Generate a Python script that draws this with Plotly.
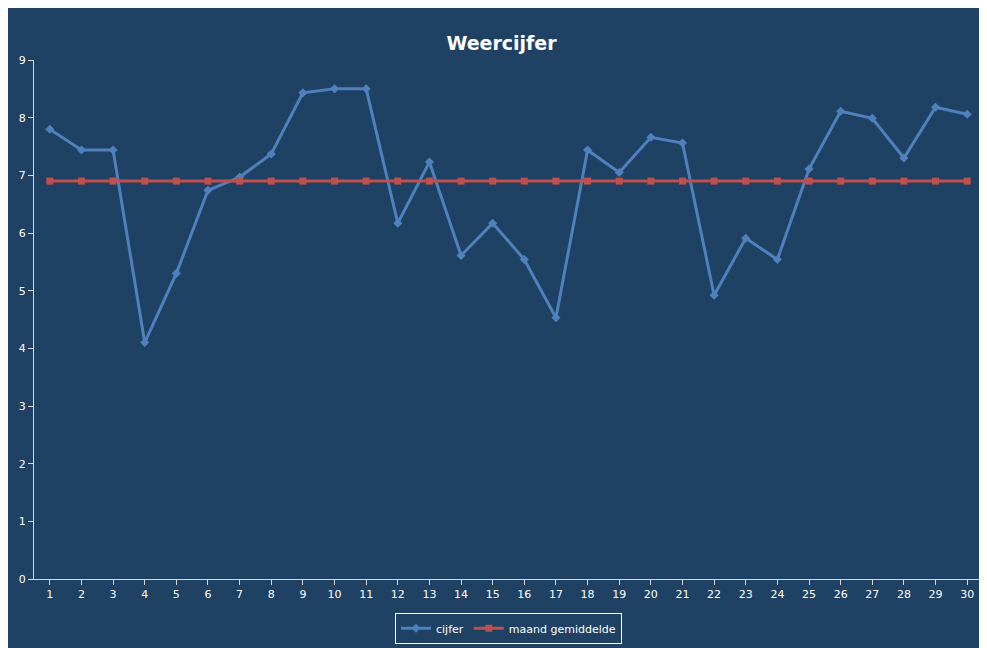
import plotly.graph_objects as go

days = list(range(1, 31))
cijfer = [7.80, 7.44, 7.44, 4.10, 5.30, 6.74, 6.97, 7.37, 8.43, 8.50, 8.50, 6.17, 7.23, 5.61, 6.17,
          5.54, 4.53, 7.44, 7.05, 7.66, 7.56, 4.92, 5.91, 5.54, 7.11, 8.11, 7.99, 7.30, 8.18, 8.06]
gemiddelde = [6.90] * 30

fig = go.Figure()
fig.add_trace(go.Scatter(x=days, y=cijfer, name="cijfer", mode="lines+markers",
                         line=dict(color="#4F81BD", width=3),
                         marker=dict(symbol="diamond", size=7, color="#4F81BD")))
fig.add_trace(go.Scatter(x=days, y=gemiddelde, name="maand gemiddelde", mode="lines+markers",
                         line=dict(color="#C0504D", width=3),
                         marker=dict(symbol="square", size=7, color="#C0504D")))
fig.update_layout(
    width=987, height=648,
    paper_bgcolor="#1F4164", plot_bgcolor="#1F4164",
    font=dict(family="DejaVu Sans", color="white", size=11),
    title=dict(text="<b>Weercijfer</b>", x=0.5, y=0.955, xanchor="center", font=dict(size=19, color="white")),
    margin=dict(l=26, r=12, t=52, b=67),
    showlegend=True,
    legend=dict(orientation="h", x=0.5, xanchor="center", y=-0.065, yanchor="top",
                bordercolor="white", borderwidth=1, font=dict(color="white", size=11)),
    xaxis=dict(range=[0.5, 30.5], tickmode="array", tickvals=days, showgrid=False,
               showline=True, linecolor="#D9D9D9", ticks="outside", ticklen=5, tickcolor="#D9D9D9",
               zeroline=False),
    yaxis=dict(range=[0, 9], dtick=1, showgrid=False, showline=True, linecolor="#D9D9D9",
               ticks="outside", ticklen=5, tickcolor="#D9D9D9", zeroline=False),
)
fig.write_html("out.html")
